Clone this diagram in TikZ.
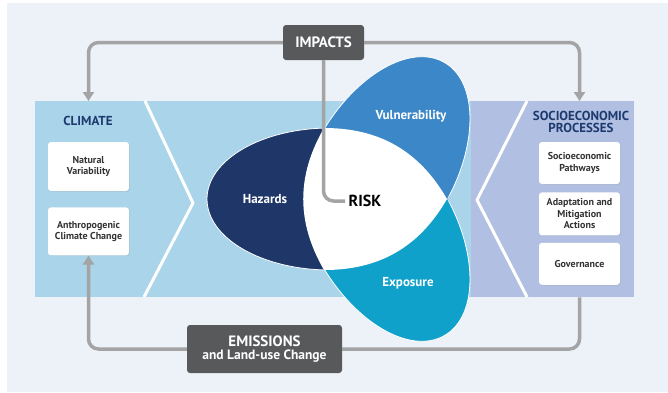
\documentclass[tikz,border=0pt]{standalone}
\usepackage{fontspec}
\setmainfont{PT Sans}
\usepackage{tikz}
\usetikzlibrary{positioning,arrows.meta,shadows}

\definecolor{pagebg}{HTML}{EDF1F8}
\definecolor{climblue}{HTML}{A9D4EA}
\definecolor{socioblue}{HTML}{B1BFE2}
\definecolor{hazcol}{HTML}{1F3768}
\definecolor{vulcol}{HTML}{3C87C8}
\definecolor{expcol}{HTML}{0FA1C9}
\definecolor{flowgray}{HTML}{A4A4A4}
\definecolor{boxgray}{HTML}{58595B}
\definecolor{titlecol}{HTML}{1D3A6E}

\begin{document}
\begin{tikzpicture}[x=1pt,y=-1pt,node distance=8pt,
    >={Triangle[width=11pt,length=9pt]},
    flow/.style={draw=flowgray,line width=3.5pt,rounded corners=10pt},
    headbox/.style={fill=boxgray,rounded corners=3pt,text=white,align=center,inner sep=0pt},
    factor/.style={fill=white,rounded corners=3pt,minimum width=81pt,inner sep=0pt,align=center,
      text=black!80,font=\bfseries\fontsize{10}{11.5}\selectfont,
      drop shadow={opacity=0.2,shadow xshift=0.8pt,shadow yshift=-0.8pt}},
    petal/.style={draw=white,line width=0.8pt},
    petaltext/.style={text=white,font=\bfseries\fontsize{13}{15}\selectfont},
    paneltitle/.style={text=titlecol,align=center,font=\bfseries\fontsize{13}{12.5}\selectfont}]
  \useasboundingbox (0,0) rectangle (668,392);
  \fill[white] (0,0) rectangle (668,392);
  \fill[pagebg] (7,3) rectangle (668,392);

  % panels
  \node[fill=climblue,minimum width=436pt,minimum height=196pt,inner sep=0pt,anchor=north west] (band) at (35,101) {};
  \node[fill=socioblue,minimum width=163pt,minimum height=196pt,inner sep=0pt,anchor=north west] (socio) at (471,101) {};
  \draw[white,line width=3pt,line join=round] (145,101) -- (193,203) -- (144,297);
  \draw[white,line width=3pt,line join=round] (527,101) -- (477,200) -- (527,297);

  % petals
  \coordinate (rT) at (324,128);
  \coordinate (rR) at (447,199);
  \coordinate (rB) at (324,270);
  \begin{scope}
    \clip (rT) -- (rB) -- (100,320) -- (100,80) -- cycle;
    \draw[petal,fill=hazcol] (330,199) ellipse [x radius=123pt,y radius=71pt];
  \end{scope}
  \begin{scope}
    \clip (rT) -- (rR) -- (574,41) -- (398,-59) -- cycle;
    \draw[petal,fill=vulcol,rotate around={60:(383,169)}] (383,169) ellipse [x radius=123pt,y radius=71pt];
  \end{scope}
  \begin{scope}
    \clip (rB) -- (rR) -- (574,357) -- (398,457) -- cycle;
    \draw[petal,fill=expcol,rotate around={-60:(383,229)}] (383,229) ellipse [x radius=123pt,y radius=71pt];
  \end{scope}
  \fill[white] (rT) to[bend left=30] (rR) to[bend left=30] (rB) to[bend left=30] (rT) -- cycle;

  \node[petaltext] (haz)  at (265,199) {Hazards};
  \node[petaltext] (vul)  at (411,116) {Vulnerability};
  \node[petaltext] (expo) at (408,283) {Exposure};
  \node[font=\bfseries\fontsize{16}{19}\selectfont] (risk) at (365,201) {RISK};

  % climate side
  \node[paneltitle] (climt) at (88,121) {CLIMATE};
  \node[factor,minimum height=49pt] (nat) at (88.5,166.5) {Natural\\Variability};
  \node[factor,minimum height=48pt,below=16pt of nat] (anth) {Anthropogenic\\Climate Change};

  % socioeconomic side
  \node[paneltitle] (sociot) at (581,122) {SOCIOECONOMIC\\PROCESSES};
  \node[factor,minimum height=42pt] (pathw) at (579.5,163) {Socioeconomic\\Pathways};
  \node[factor,minimum height=43pt,below=of pathw] (adapt) {Adaptation and\\Mitigation\\Actions};
  \node[factor,minimum height=42pt,below=7pt of adapt] (gov) {Governance};

  % drivers
  \node[headbox,minimum width=81pt,minimum height=35pt,font=\bfseries\fontsize{15}{17}\selectfont] (impacts) at (323.5,42.5) {IMPACTS};
  \node[headbox,minimum width=155pt,minimum height=48pt,font=\bfseries] (emis) at (264.5,349)
    {{\fontsize{15}{17}\selectfont EMISSIONS}\\[1pt]{\fontsize{13.5}{16}\selectfont and Land-use Change}};

  \draw[flow,->] (impacts.west) -| (nat.north |- band.north);
  \draw[flow,->] (impacts.east) -| (pathw.north |- socio.north);
  \draw[flow] (impacts.south) |- (risk.west);
  \draw[flow] (socio.south -| gov.south) |- (emis.east);
  \draw[flow,->] (emis.west) -| (anth.south);
\end{tikzpicture}
\end{document}
